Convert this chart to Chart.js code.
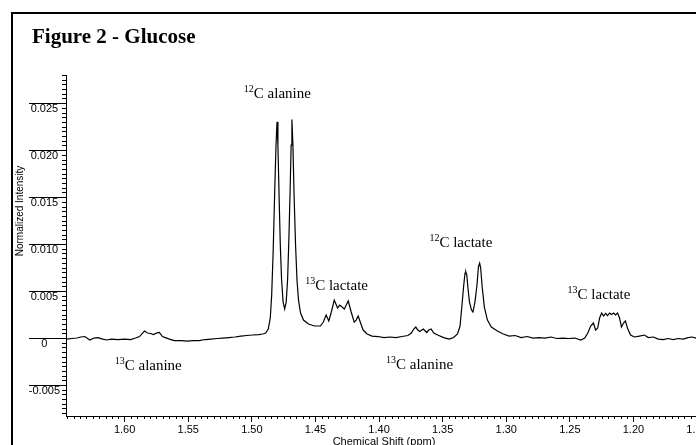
<!DOCTYPE html>
<html lang="en">
  <head>
    <meta charset="UTF-8" />
    <title>Figure 2 - Glucose</title>
    <script src="https://cdn.jsdelivr.net/npm/chart.js"></script>
    <style>
      body { margin: 0; overflow: hidden; background: #fff; }
      #frame {
        position: absolute; left: 11px; top: 12px; width: 800px; height: 500px;
        border-top: 2px solid #000; border-left: 2px solid #000;
      }
      #spectrum { position: absolute; left: 0; top: 0; }
    </style>
  </head>
  <body>
    <div id="frame"></div>
    <canvas id="spectrum" width="720" height="445"></canvas>

    <script>
      // chemical shift (ppm) and normalized intensity
      const shift = [
        1.6461, 1.6414, 1.6375, 1.6344, 1.6313, 1.6273, 1.6242, 1.6211, 1.6172, 1.6141,
        1.6102, 1.6055, 1.6000, 1.5953, 1.5914, 1.5883, 1.5859, 1.5844, 1.5820, 1.5797,
        1.5773, 1.5750, 1.5727, 1.5703, 1.5680, 1.5648, 1.5609, 1.5555, 1.5508, 1.5461,
        1.5414, 1.5367, 1.5320, 1.5273, 1.5227, 1.5180, 1.5133, 1.5086, 1.5039, 1.4992,
        1.4945, 1.4914, 1.4891, 1.4871, 1.4855, 1.4844, 1.4832, 1.4820, 1.4810, 1.4802,
        1.4795, 1.4785, 1.4776, 1.4766, 1.4754, 1.4742, 1.4730, 1.4719, 1.4709, 1.4699,
        1.4691, 1.4685, 1.4677, 1.4668, 1.4656, 1.4645, 1.4633, 1.4617, 1.4594, 1.4555,
        1.4508, 1.4461, 1.4438, 1.4416, 1.4395, 1.4375, 1.4352, 1.4326, 1.4309, 1.4295,
        1.4273, 1.4258, 1.4242, 1.4219, 1.4195, 1.4180, 1.4164, 1.4145, 1.4125, 1.4094,
        1.4055, 1.4008, 1.3961, 1.3914, 1.3867, 1.3820, 1.3773, 1.3746, 1.3727, 1.3711,
        1.3695, 1.3680, 1.3652, 1.3625, 1.3609, 1.3591, 1.3570, 1.3539, 1.3492, 1.3448,
        1.3414, 1.3383, 1.3363, 1.3348, 1.3334, 1.3324, 1.3318, 1.3310, 1.3301, 1.3289,
        1.3273, 1.3262, 1.3246, 1.3230, 1.3219, 1.3209, 1.3201, 1.3189, 1.3172, 1.3148,
        1.3117, 1.3070, 1.3023, 1.2977, 1.2930, 1.2883, 1.2836, 1.2789, 1.2742, 1.2695,
        1.2648, 1.2602, 1.2555, 1.2508, 1.2461, 1.2414, 1.2383, 1.2359, 1.2336, 1.2315,
        1.2297, 1.2281, 1.2266, 1.2250, 1.2234, 1.2219, 1.2203, 1.2188, 1.2172, 1.2156,
        1.2141, 1.2125, 1.2109, 1.2094, 1.2078, 1.2063, 1.2047, 1.2023, 1.1992, 1.1953,
        1.1914, 1.1883, 1.1844, 1.1805, 1.1766, 1.1727, 1.1688, 1.1648, 1.1609, 1.1570,
        1.1539, 1.1508, 1.1461
      ];
      const intensity = [
        -0.00011, -0.00005, 0, 0.00011, 0.00016, -0.00021, 0, 0.00005, -0.00011, -0.00021,
        -0.00011, -0.00016, -0.00011, -0.00016, 0, 0.00016, 0.00053, 0.00074, 0.00053, 0.00048,
        0.00037, 0.00053, 0.00059, 0.00016, 0.00005, -0.00011, -0.00027, -0.00027, -0.00032, -0.00027,
        -0.00027, -0.00016, -0.00011, -0.00005, 0, 0.00005, 0.00011, 0.00021, 0.00027, 0.00032,
        0.00037, 0.00043, 0.00053, 0.00096, 0.00213, 0.00457, 0.00936, 0.01574, 0.02053, 0.02301,
        0.02053, 0.01468, 0.00979, 0.00617, 0.00383, 0.00309, 0.00383, 0.00617, 0.01043, 0.01574,
        0.02053, 0.02327, 0.02053, 0.01521, 0.00979, 0.00617, 0.00404, 0.00266, 0.00191, 0.00149,
        0.00128, 0.00128, 0.00170, 0.00245, 0.00181, 0.00277, 0.00404, 0.00319, 0.00351, 0.00335,
        0.00309, 0.00351, 0.00394, 0.00277, 0.00170, 0.00191, 0.00234, 0.00160, 0.00085, 0.00043,
        0.00021, 0.00016, 0.00005, 0.00011, 0.00005, 0.00016, 0.00027, 0.00053, 0.00096, 0.00117,
        0.00085, 0.00069, 0.00096, 0.00059, 0.00085, 0.00096, 0.00053, 0.00032, 0.00005, -0.00011,
        0.00005, 0.00043, 0.00128, 0.00351, 0.00564, 0.00691, 0.00705, 0.00670, 0.00532, 0.00383,
        0.00298, 0.00277, 0.00383, 0.00564, 0.00755, 0.00798, 0.00745, 0.00543, 0.00330, 0.00191,
        0.00117, 0.00074, 0.00043, 0.00021, 0.00027, 0.00005, 0.00016, 0, 0.00005, 0,
        0.00011, -0.00005, 0, -0.00005, 0, -0.00021, 0, 0.00053, 0.00128, 0.00160,
        0.00085, 0.00106, 0.00213, 0.00266, 0.00234, 0.00261, 0.00239, 0.00266, 0.00250, 0.00266,
        0.00245, 0.00266, 0.00213, 0.00117, 0.00160, 0.00181, 0.00106, 0.00032, 0.00011, 0.00021,
        0.00032, 0.00005, 0.00011, -0.00011, -0.00016, -0.00005, -0.00016, -0.00005, -0.00011, 0.00005,
        0.00011, 0, 0
      ];

      const xTicks = [1.60, 1.55, 1.50, 1.45, 1.40, 1.35, 1.30, 1.25, 1.20, 1.15];
      const xTickLabels = ['1.60', '1.55', '1.50', '1.45', '1.40', '1.35', '1.30', '1.25', '1.20', '1.15'];
      const yTicks = [-0.005, 0, 0.005, 0.010, 0.015, 0.020, 0.025];
      const yTickLabels = ['-0.005', '0', '0.005', '0.010', '0.015', '0.020', '0.025'];

      // peak labels: isotope, name, anchor (ppm, intensity) of the text baseline start
      const peakIsotope = ['12', '13', '12', '13', '13', '13'];
      const peakName = ['C alanine', 'C lactate', 'C lactate', 'C lactate', 'C alanine', 'C alanine'];
      const peakAt = [
        [1.5063, 0.02553], [1.4581, 0.00511], [1.3604, 0.00968],
        [1.2518, 0.00415], [1.6078, -0.00340], [1.3945, -0.00330]
      ];

      const serif = '"Liberation Serif", "Times New Roman", serif';
      const sans = '"Liberation Sans", Arial, sans-serif';

      const extras = {
        id: 'extras',
        afterDraw(chart) {
          const { ctx, chartArea, scales: { x, y } } = chart;
          ctx.save();
          ctx.strokeStyle = '#000';
          ctx.lineWidth = 1;
          ctx.beginPath();
          // minor ticks, y every 0.0005
          for (let i = -16; i <= 56; i++) {
            if (i % 10 === 0) continue;
            const py = Math.round(y.getPixelForValue(i * 0.0005)) + 0.5;
            ctx.moveTo(chartArea.left - 4, py);
            ctx.lineTo(chartArea.left, py);
          }
          // minor ticks, x every 0.005
          for (let i = 230; i <= 329; i++) {
            if (i % 10 === 0) continue;
            const px = Math.round(x.getPixelForValue(i * 0.005)) + 0.5;
            ctx.moveTo(px, chartArea.bottom);
            ctx.lineTo(px, chartArea.bottom + 3);
          }
          ctx.stroke();

          ctx.fillStyle = '#000';
          ctx.textBaseline = 'alphabetic';
          ctx.textAlign = 'left';

          // figure title
          ctx.font = 'bold 21px ' + serif;
          ctx.fillText('Figure 2 - Glucose', 32, 43);

          // peak labels
          peakName.forEach((name, i) => {
            const px = x.getPixelForValue(peakAt[i][0]);
            const py = y.getPixelForValue(peakAt[i][1]);
            ctx.font = '10px ' + serif;
            ctx.fillText(peakIsotope[i], px, py - 6);
            const w = ctx.measureText(peakIsotope[i]).width;
            ctx.font = '15px ' + serif;
            ctx.fillText(name, px + w, py);
          });

          // y axis title
          ctx.translate(20, 211);
          ctx.rotate(-Math.PI / 2);
          ctx.textAlign = 'center';
          ctx.textBaseline = 'middle';
          ctx.font = '10px ' + sans;
          ctx.fillText('Normalized Intensity', 0, 0);
          ctx.restore();
        }
      };

      const ctx = document.getElementById('spectrum').getContext('2d');
      const chart = new Chart(ctx, {
        type: 'scatter',
        data: {
          datasets: [
            {
              data: shift.map((s, i) => ({ x: s, y: intensity[i] })),
              showLine: true,
              borderColor: '#000',
              borderWidth: 1.2,
              pointRadius: 0,
              tension: 0,
            },
          ],
        },
        options: {
          responsive: false,
          animation: false,
          layout: { padding: { left: 14, right: 18, top: 75, bottom: 0 } },
          plugins: {
            legend: { display: false },
            tooltip: { enabled: false },
          },
          scales: {
            x: {
              type: 'linear',
              reverse: true,
              min: 1.1461,
              max: 1.6461,
              afterBuildTicks: (s) => { s.ticks = xTicks.map((v) => ({ value: v })); },
              afterFit: (s) => { s.height = 29; s.paddingLeft = 0; s.paddingRight = 0; },
              grid: { drawOnChartArea: false, tickLength: 6, tickColor: '#000' },
              border: { display: true, color: '#000', width: 1 },
              ticks: {
                autoSkip: false,
                maxRotation: 0,
                padding: 1,
                color: '#000',
                font: { family: sans, size: 11 },
                callback: (v) => xTickLabels[xTicks.indexOf(v)],
              },
              title: {
                display: true,
                text: 'Chemical Shift (ppm)',
                color: '#000',
                font: { family: sans, size: 11 },
                padding: { top: 0, bottom: -4 },
              },
            },
            y: {
              type: 'linear',
              min: -0.0083,
              max: 0.028,
              afterBuildTicks: (s) => { s.ticks = yTicks.map((v) => ({ value: v })); },
              afterFit: (s) => { s.width = 52; s.paddingTop = 0; s.paddingBottom = 0; },
              grid: { drawOnChartArea: false, tickLength: 37, tickColor: '#000' },
              border: { display: true, color: '#000', width: 1 },
              ticks: {
                crossAlign: 'center',
                padding: -31,
                labelOffset: 6,
                color: '#000',
                font: { family: sans, size: 11 },
                callback: (v) => yTickLabels[yTicks.indexOf(v)],
              },
            },
          },
        },
        plugins: [extras],
      });
    </script>
  </body>
</html>
